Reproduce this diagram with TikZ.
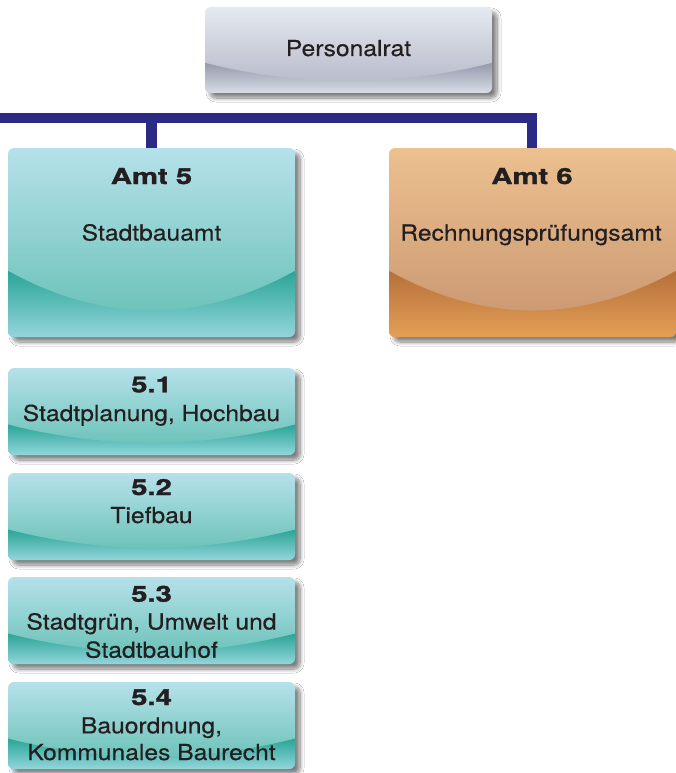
\documentclass[tikz,border=0pt]{standalone}
\usepackage{fontspec}
\setmainfont{TeX Gyre Heros}[FakeStretch=1.12, FakeBold=0.4]
\newfontfamily\widebold{TeX Gyre Heros}[FakeStretch=1.33, FakeBold=1.6]
\usetikzlibrary{shadows.blur}
\definecolor{barblue}{HTML}{2B2A85}
\definecolor{txt}{HTML}{231F20}
\definecolor{tealtop}{HTML}{B6E1EA}
\definecolor{tealmid}{HTML}{62BEB2}
\definecolor{tealdark}{HTML}{2AA595}
\definecolor{teallight}{HTML}{93D5DC}
\definecolor{ortop}{HTML}{ECC08F}
\definecolor{ormid}{HTML}{C8946F}
\definecolor{ordark}{HTML}{B5703A}
\definecolor{orlight}{HTML}{E49F56}
\definecolor{grtop}{HTML}{E5E9F0}
\definecolor{grmid}{HTML}{B2B5C4}
\definecolor{grdark}{HTML}{9699AC}
\definecolor{grlight}{HTML}{D8DDE6}
\tikzset{
  boxshadow/.style={rounded corners=6pt, blur shadow={shadow xshift=5pt, shadow yshift=-5pt, shadow blur radius=4pt, shadow opacity=50, shadow blur steps=10}},
  boxnode/.style={inner sep=0pt, draw=none},
  conn/.style={draw=barblue, line width=10.5pt, line join=miter},
  lbl/.style={anchor=base, inner sep=0pt, text=txt, font=\fontsize{22}{26}\selectfont},
  num/.style={anchor=base, inner sep=0pt, text=txt, font=\widebold\bfseries\fontsize{22}{26}\selectfont},
}
\newcommand\gbox[9]{%
  \pgfmathsetmacro\gxa{#2}\pgfmathsetmacro\gya{#3}%
  \pgfmathsetmacro\gxb{#4}\pgfmathsetmacro\gyb{#5}%
  \pgfmathsetmacro\gw{\gxb-\gxa}\pgfmathsetmacro\gh{\gyb-\gya}%
  \pgfmathsetmacro\gwa{\gya+0.65*\gh}\pgfmathsetmacro\gwb{\gya+0.86*\gh}%
  \pgfmathsetmacro\gcy{\gwa+4/3*(\gwb-\gwa)}%
  \pgfmathsetmacro\gca{\gxa+\gw/3}\pgfmathsetmacro\gcb{\gxb-\gw/3}%
  \path[boxshadow] (\gxa,\gya) rectangle (\gxb,\gyb);
  \begin{scope}
    \clip[rounded corners=6pt] (\gxa,\gya) rectangle (\gxb,\gyb);
    \shade[top color=#6, bottom color=#7] (\gxa,\gya) rectangle (\gxb,\gyb);
    \shade[top color=#8, bottom color=#9] (\gxa,\gwa) .. controls (\gca,\gcy) and (\gcb,\gcy) .. (\gxb,\gwa) -- (\gxb,\gyb) -- (\gxa,\gyb) -- cycle;
  \end{scope}
  \node[boxnode, minimum width=\gw pt, minimum height=\gh pt] (#1) at ({(\gxa+\gxb)/2},{(\gya+\gyb)/2}) {};
}
\begin{document}
\begin{tikzpicture}[x=1pt, y=-1pt]
\useasboundingbox (0,0) rectangle (675,773);
\fill[white] (0,0) rectangle (675,773);

% connectors (drawn first, behind boxes)
\coordinate (barL) at (-10,118);
\coordinate (a5top) at (151.7,148);
\coordinate (a6top) at (532,148);
\draw[conn] (barL) -| (a6top);
\draw[conn] (a5top) -- (a5top |- barL);

% boxes
\gbox{pr}{205}{7}{492}{93}{grtop}{grmid}{grdark}{grlight}
\gbox{a5}{8}{148}{295}{337}{tealtop}{tealmid}{tealdark}{teallight}
\gbox{a6}{389}{148}{676}{337}{ortop}{ormid}{ordark}{orlight}
\gbox{b51}{8}{368}{295}{455}{tealtop}{tealmid}{tealdark}{teallight}
\gbox{b52}{8}{473}{295}{560}{tealtop}{tealmid}{tealdark}{teallight}
\gbox{b53}{8}{577}{295}{664}{tealtop}{tealmid}{tealdark}{teallight}
\gbox{b54}{8}{682}{295}{769}{tealtop}{tealmid}{tealdark}{teallight}

% texts
\node[lbl] (prt) at (348.5,56) {Personalrat};
\node[num] (a5n) at (151.5,184) {Amt 5};
\node[lbl] (a5t) at (151.5,240.5) {Stadtbauamt};
\node[num] (a6n) at (532,184) {Amt 6};
\node[lbl] (a6t) at (531,240.5) {Rechnungsprüfungsamt};
\node[num] (b51n) at (151.5,392.3) {5.1};
\node[lbl] (b51t) at (151.5,421) {Stadtplanung, Hochbau};
\node[num] (b52n) at (151.5,495) {5.2};
\node[lbl] (b52t) at (151.5,523) {Tiefbau};
\node[num] (b53n) at (151.5,601.7) {5.3};
\node[lbl] (b53t) at (151.5,629.5) {Stadtgrün, Umwelt und};
\node[lbl] (b53u) at (151.5,657.7) {Stadtbauhof};
\node[num] (b54n) at (151.5,705) {5.4};
\node[lbl] (b54t) at (151.5,733.3) {Bauordnung,};
\node[lbl] (b54u) at (151.5,760) {Kommunales Baurecht};
\end{tikzpicture}
\end{document}
